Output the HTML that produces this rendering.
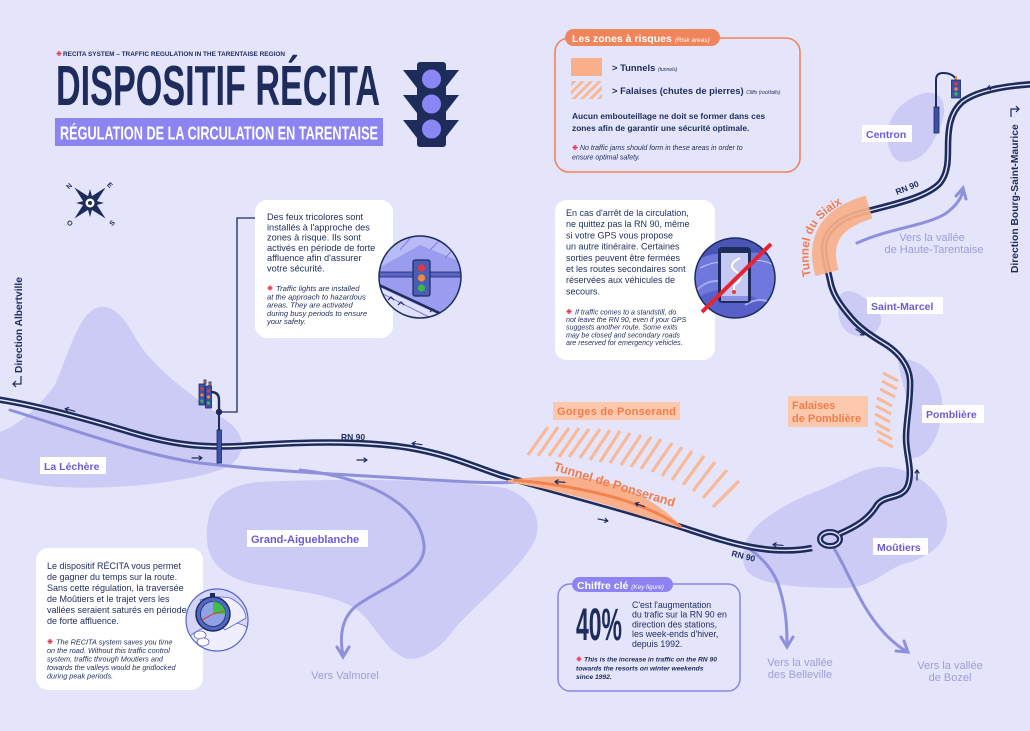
<!DOCTYPE html>
<html><head><meta charset="utf-8">
<style>
html,body{margin:0;padding:0;background:#e4e4fb;}
svg{display:block;}
text{font-family:"Liberation Sans",sans-serif;}
</style></head>
<body>
<svg width="1030" height="731" viewBox="0 0 1030 731" xmlns="http://www.w3.org/2000/svg">
<defs>
<pattern id="hatch" width="6" height="6" patternUnits="userSpaceOnUse" patternTransform="rotate(45)">
<rect width="3" height="6" fill="#f9b896"/>
</pattern>
<clipPath id="c1"><circle cx="420" cy="277" r="41"/></clipPath>
<clipPath id="c2"><circle cx="735" cy="278" r="40"/></clipPath>
<clipPath id="c3"><circle cx="217" cy="620" r="31"/></clipPath>
<path id="siaixPath" d="M811,276 C808,262 807,248 812,234 C819,216 838,204 862,195"/>
</defs>
<rect width="1030" height="731" fill="#e4e4fb"/>

<!-- blobs -->
<g fill="#cbcbf5">
<path d="M0,432 C20,425 40,405 55,385 C70,350 80,310 100,307 C120,305 130,330 140,345 C160,375 200,400 232,425 C248,440 243,460 225,468 C190,482 120,490 60,487 C30,485 10,480 0,478 Z"/>
<path d="M207,540 C205,505 220,485 260,482 C330,479 440,478 505,488 C535,498 542,522 535,540 C520,570 480,600 455,628 C440,650 420,662 405,658 C385,650 375,625 360,612 C340,595 300,592 260,585 C225,580 208,562 207,540 Z"/>
<path d="M890,150 C880,130 895,100 925,93 C945,90 948,110 940,127 C932,145 925,160 905,162 C895,162 892,156 890,150 Z"/>
<path d="M838,305 C838,290 848,288 860,295 C872,303 885,312 880,325 C875,338 855,340 845,330 C838,322 838,312 838,305 Z"/>
<path d="M898,360 C920,355 945,380 942,410 C940,440 925,460 910,458 C900,455 905,440 908,420 C910,400 900,380 898,360 Z"/>
<path d="M745,545 C750,525 780,505 820,490 C850,478 870,462 895,468 C925,475 948,500 947,525 C945,550 920,560 900,565 C880,575 870,588 840,588 C800,588 760,585 748,572 C742,565 742,555 745,545 Z"/>
</g>

<!-- hatches -->
<path stroke="#f9b896" stroke-width="3.2" fill="none" d="M528,455L548,427 M538,456L558,427 M549,456L569,428 M559,457L579,428 M569,457L589,429 M580,458L600,429 M590,460L610,430 M600,462L620,431 M610,463L630,433 M621,465L641,435 M631,467L651,437 M641,469L661,439 M652,472L672,443 M662,476L682,447 M672,480L692,451 M683,485L704,456 M693,491L715,462 M703,498L727,470 M713,507L739,481"/>
<path stroke="#f9b896" stroke-width="3" fill="none" d="M883,373L898,381 M882,381L897,389 M880,389L895,397 M877,398L892,406 M876,406L891,414 M875,414L890,422 M875,423L890,431 M877,431L892,439 M878,439L893,447"/>

<!-- secondary roads -->
<g fill="none" stroke="#8f90dc" stroke-width="3" stroke-linecap="round">
<path d="M10,410 C60,425 140,455 200,463 C260,470 330,474 400,478 C450,481 490,484 515,482"/>
<path d="M300,470 C370,478 420,505 424,545 C427,575 375,590 355,607 C340,620 340,640 343,655"/>
<path d="M337,647 L343,657 L349,647"/>
<path d="M748,548 C760,556 775,570 780,590 C786,610 787,625 787,645"/>
<path d="M781,637 L787,647 L793,637"/>
<path d="M832,545 C842,560 852,585 865,607 C877,627 892,643 906,651"/>
<path d="M896,651 L908,652 L904,641"/>
<path d="M857,243 C890,228 925,226 945,214 C955,207 961,199 963,191"/>
<path d="M956,196 L963,188 L966,199"/>
</g>

<!-- main road -->
<g fill="none" stroke-linecap="butt">
<path d="M-5,399 C30,404 80,417 130,432 C170,444 200,448 240,446 C300,442 360,440 410,448 C450,455 470,465 500,475 C560,493 630,510 690,530 C730,543 770,556 812,548" stroke="#1d2c5b" stroke-width="6.5"/>
<path d="M-5,399 C30,404 80,417 130,432 C170,444 200,448 240,446 C300,442 360,440 410,448 C450,455 470,465 500,475 C560,493 630,510 690,530 C730,543 770,556 812,548" stroke="#e4e4fb" stroke-width="1.4"/>
<ellipse cx="830" cy="539" rx="10" ry="7" stroke="#1d2c5b" stroke-width="6"/>
<ellipse cx="830" cy="539" rx="10" ry="7" stroke="#e4e4fb" stroke-width="1.4"/>
<path d="M839,534 C855,527 868,520 877,505 C885,494 903,500 908,485 C913,470 906,455 906,438 C906,420 911,400 910,380 C909,365 898,352 885,344 C870,335 858,327 848,314 C838,302 832,292 830,280 C827,266 821,250 826,238 C833,222 850,215 868,211 C900,203 928,196 940,183 C948,173 948,160 948,148 C948,128 950,113 962,102 C975,92 1000,86 1035,84" stroke="#1d2c5b" stroke-width="6.5"/>
<path d="M839,534 C855,527 868,520 877,505 C885,494 903,500 908,485 C913,470 906,455 906,438 C906,420 911,400 910,380 C909,365 898,352 885,344 C870,335 858,327 848,314 C838,302 832,292 830,280 C827,266 821,250 826,238 C833,222 850,215 868,211 C900,203 928,196 940,183 C948,173 948,160 948,148 C948,128 950,113 962,102 C975,92 1000,86 1035,84" stroke="#e4e4fb" stroke-width="1.4"/>
</g>

<!-- tunnels -->
<path d="M508,480 C545,475 580,474 613,484 C640,493 665,508 684,529 C660,522 630,512 600,503 C565,493 535,486 508,482 Z" fill="#f9b08a"/>
<path d="M513,480 C550,483 585,489 620,499 C645,507 665,516 681,527" fill="none" stroke="#f2824f" stroke-width="3"/>
<path d="M869,207 C849,213 833,222 827,238 C822,250 824,262 827,273" fill="none" stroke="#f9b08a" stroke-width="24" opacity="0.92"/>

<!-- direction arrows -->
<g fill="none" stroke="#1d2c5b" stroke-width="1.2" stroke-linecap="round">
<g transform="translate(70,410) rotate(15)"><path d="M-5,0H5M-5,0l3,-2M-5,0l3,2"/></g>
<g transform="translate(197,458)"><path d="M-5,0H5M5,0l-3,-2M5,0l-3,2"/></g>
<g transform="translate(362,460)"><path d="M-5,0H5M5,0l-3,-2M5,0l-3,2"/></g>
<g transform="translate(417,444) rotate(8)"><path d="M-5,0H5M-5,0l3,-2M-5,0l3,2"/></g>
<g transform="translate(560,482) rotate(4)"><path d="M-5,0H5M-5,0l3,-2M-5,0l3,2"/></g>
<g transform="translate(640,505) rotate(20)"><path d="M-5,0H5M-5,0l3,-2M-5,0l3,2"/></g>
<g transform="translate(603,520) rotate(12)"><path d="M-5,0H5M5,0l-3,-2M5,0l-3,2"/></g>
<g transform="translate(778,545) rotate(5)"><path d="M-5,0H5M-5,0l3,-2M-5,0l3,2"/></g>
<g transform="translate(860,332) rotate(35)"><path d="M-5,0H5M5,0l-3,-2M5,0l-3,2"/></g>
<g transform="translate(917,475) rotate(-90)"><path d="M-5,0H5M5,0l-3,-2M5,0l-3,2"/></g>
<g transform="translate(992,87) rotate(-15)"><path d="M-5,0H5M-5,0l3,-2M-5,0l3,2"/></g>
</g>

<!-- RN 90 labels -->
<g fill="#1d2c5b" font-size="8.5" font-weight="bold">
<text x="341" y="440">RN 90</text>
<text x="0" y="0" transform="translate(731,556) rotate(14)">RN 90</text>
<text x="0" y="0" transform="translate(897,195) rotate(-22)">RN 90</text>
</g>

<!-- orange labels -->
<rect x="553" y="402" width="127" height="18" fill="#fcc9ad"/>
<text x="557" y="415" font-size="11" font-weight="bold" fill="#f07d4d" textLength="119">Gorges de Ponserand</text>
<rect x="788" y="396" width="80" height="31" fill="#fcc9ad"/>
<text x="792" y="409" font-size="11" font-weight="bold" fill="#f07d4d">Falaises</text>
<text x="792" y="422" font-size="11" font-weight="bold" fill="#f07d4d">de Pomblière</text>
<text x="0" y="0" transform="translate(553,470) rotate(17)" font-size="12.5" font-weight="bold" fill="#f07d4d">Tunnel de Ponserand</text>
<text font-size="11.8" font-weight="bold" fill="#f07d4d"><textPath href="#siaixPath">Tunnel du Siaix</textPath></text>

<!-- place labels -->
<g font-size="10.5" font-weight="bold" fill="#6b5bd6">
<rect x="40" y="457" width="66" height="17" fill="#fff"/><text x="44" y="470">La Léchère</text>
<rect x="247" y="530" width="121" height="17" fill="#fff"/><text x="251" y="543" font-size="11">Grand-Aigueblanche</text>
<rect x="862" y="125" width="50" height="17" fill="#fff"/><text x="866" y="138">Centron</text>
<rect x="867" y="297" width="76" height="17" fill="#fff"/><text x="871" y="310">Saint-Marcel</text>
<rect x="922" y="405" width="62" height="18" fill="#fff"/><text x="926" y="418">Pomblière</text>
<rect x="873" y="538" width="55" height="17" fill="#fff"/><text x="877" y="551">Moûtiers</text>
</g>

<!-- vers labels -->
<g font-size="11" fill="#9d9fd6" text-anchor="middle">
<text x="345" y="679">Vers Valmorel</text>
<text x="800" y="666">Vers la vallée</text><text x="800" y="678">des Belleville</text>
<text x="950" y="669">Vers la vallée</text><text x="950" y="681">de Bozel</text>
<text x="932" y="241">Vers la vallée</text><text x="934" y="253">de Haute-Tarentaise</text>
</g>

<!-- direction labels -->
<text x="0" y="0" transform="translate(22,373) rotate(-90)" font-size="10.2" font-weight="bold" fill="#1d2c5b">Direction Albertville</text>
<path d="M21,376 V384 H13 M16,381 L13,384 L16,387" fill="none" stroke="#1d2c5b" stroke-width="1.2"/>
<text x="0" y="0" transform="translate(1018,273) rotate(-90)" font-size="10.3" font-weight="bold" fill="#1d2c5b">Direction Bourg-Saint-Maurice</text>
<path d="M1011,117 V109 H1019 M1016,106 L1019,109 L1016,112" fill="none" stroke="#1d2c5b" stroke-width="1.2"/>

<!-- left traffic light + connector -->
<path d="M255,218 H237 V412 H219" fill="none" stroke="#1d2c5b" stroke-width="1.3"/>
<path d="M219,412 V400 Q219,392 211,392" fill="none" stroke="#1d2c5b" stroke-width="2.4"/>
<line x1="219" y1="412" x2="219" y2="463" stroke="#1d2c5b" stroke-width="2"/>
<rect x="217" y="430" width="4.5" height="33" fill="#3d4fa8" stroke="#1d2c5b" stroke-width="0.8"/>
<circle cx="219" cy="412" r="3.2" fill="#1d2c5b"/>
<g stroke="#1d2c5b" stroke-width="0.8">
<rect x="204" y="380" width="2" height="4" fill="#f08a3c"/>
<rect x="209" y="382" width="2" height="4" fill="#f08a3c"/>
<rect x="199" y="384" width="6" height="21" fill="#3f50a8"/>
<rect x="205.5" y="386" width="6" height="22" fill="#3f50a8"/>
</g>
<g stroke="none">
<circle cx="202" cy="389" r="1.6" fill="#e23b3b"/><circle cx="202" cy="395" r="1.6" fill="#f08a3c"/><circle cx="202" cy="401" r="1.6" fill="#3bb84a"/>
<circle cx="208.5" cy="391" r="1.6" fill="#e23b3b"/><circle cx="208.5" cy="397" r="1.6" fill="#f08a3c"/><circle cx="208.5" cy="403" r="1.6" fill="#3bb84a"/>
</g>

<!-- top-right traffic light -->
<path d="M936,108 V80 Q936,73 943,73 Q952,73 956,79" fill="none" stroke="#1d2c5b" stroke-width="2"/>
<rect x="934" y="107" width="5" height="26" fill="#3d4fa8" stroke="#1d2c5b" stroke-width="0.8"/>
<rect x="955" y="76" width="2" height="4" fill="#f08a3c"/>
<rect x="951.5" y="80" width="9" height="18" fill="#3f50a8" stroke="#1d2c5b" stroke-width="0.8"/>
<circle cx="956" cy="84" r="1.7" fill="#e23b3b"/><circle cx="956" cy="89" r="1.7" fill="#f08a3c"/><circle cx="956" cy="94" r="1.7" fill="#3bb84a"/>

<!-- title -->
<circle cx="59" cy="53.5" r="2.4" fill="#f28aa0"/>
<path d="M56.6,53.5H61.4M59,51.1V55.9" stroke="#e0304a" stroke-width="0.9"/>
<text x="63" y="56" font-size="6" font-weight="bold" fill="#1d2c5b" textLength="222" lengthAdjust="spacingAndGlyphs">RECITA SYSTEM – TRAFFIC REGULATION IN THE TARENTAISE REGION</text>
<text x="56" y="105" font-size="57" font-weight="bold" fill="#1d2c5b" textLength="324" lengthAdjust="spacingAndGlyphs">DISPOSITIF RÉCITA</text>
<rect x="55" y="118" width="328" height="28" fill="#8c84f2"/>
<text x="60" y="139.5" font-size="18.5" font-weight="bold" fill="#fff" textLength="318" lengthAdjust="spacingAndGlyphs">RÉGULATION DE LA CIRCULATION EN TARENTAISE</text>

<!-- traffic light icon -->
<g fill="#1d2c5b">
<polygon points="403,70 417,70 417,88"/>
<polygon points="403,95 417,95 417,113"/>
<polygon points="403,120 417,120 417,138"/>
<polygon points="459,70 445,70 445,88"/>
<polygon points="459,95 445,95 445,113"/>
<polygon points="459,120 445,120 445,138"/>
<rect x="417" y="62" width="29" height="85" rx="3"/>
</g>
<g fill="#8b86f5" stroke="#1d2c5b" stroke-width="1">
<circle cx="431.5" cy="79" r="10"/>
<circle cx="431.5" cy="104" r="10"/>
<circle cx="431.5" cy="129" r="10"/>
</g>

<!-- compass -->
<g transform="translate(90,203)" fill="#1d2c5b">
<g transform="rotate(45)">
<polygon points="0,-22 4,-4 0,0 -4,-4"/>
<polygon points="22,0 4,4 0,0 4,-4"/>
<polygon points="0,22 -4,4 0,0 4,4"/>
<polygon points="-22,0 -4,-4 0,0 -4,4"/>
</g>
<polygon points="0,-14 3,-3 0,0 -3,-3"/>
<polygon points="14,0 3,3 0,0 3,-3"/>
<polygon points="0,14 -3,3 0,0 3,3"/>
<polygon points="-14,0 -3,-3 0,0 -3,3"/>
<circle r="4.5" fill="#fff"/><circle r="2" fill="#1d2c5b"/>
<g font-size="7" font-weight="bold" text-anchor="middle">
<text transform="translate(-21,-17) rotate(-45)" y="2.5">N</text>
<text transform="translate(20,-18) rotate(45)" y="2.5">E</text>
<text transform="translate(-20,20) rotate(45)" y="2.5">O</text>
<text transform="translate(22,20) rotate(-45)" y="2.5">S</text>
</g>
</g>

<!-- legend box -->
<rect x="555" y="38" width="245" height="134" rx="14" fill="none" stroke="#f0845a" stroke-width="1.6"/>
<rect x="565" y="29" width="155" height="17" rx="8.5" fill="#f0845a"/>
<text x="572" y="42" font-size="10.5" font-weight="bold" fill="#fff">Les zones à risques <tspan font-size="6.5" font-weight="normal" font-style="italic">(Risk areas)</tspan></text>
<rect x="571" y="58" width="31" height="18" fill="#f9b08a"/>
<rect x="571" y="81" width="31" height="18" fill="url(#hatch)"/>
<text x="612" y="71" font-size="9.4" font-weight="bold" fill="#1d2c5b">&gt; Tunnels <tspan font-size="5" font-weight="normal" font-style="italic">(tunnels)</tspan></text>
<text x="612" y="94" font-size="9.4" font-weight="bold" fill="#1d2c5b">&gt; Falaises (chutes de pierres) <tspan font-size="5" font-weight="normal" font-style="italic">Cliffs (rockfalls)</tspan></text>
<text x="572" y="119" font-size="8.4" font-weight="bold" fill="#1d2c5b">Aucun embouteillage ne doit se former dans ces</text>
<text x="572" y="131" font-size="8.4" font-weight="bold" fill="#1d2c5b">zones afin de garantir une sécurité optimale.</text>
<circle cx="575" cy="147.5" r="2.5" fill="#f28aa0"/><path d="M572.5,147.5H577.5M575,145V150" stroke="#e0304a" stroke-width="0.9"/>
<text x="580" y="150" font-size="7" font-style="italic" fill="#1d2c5b">No traffic jams should form in these areas in order to</text>
<text x="572" y="159.5" font-size="7" font-style="italic" fill="#1d2c5b">ensure optimal safety.</text>

<!-- callout 1 -->
<rect x="255" y="200" width="138" height="138" rx="12" fill="#fff"/>
<g font-size="9.2" fill="#1d2c5b">
<text x="267" y="220">Des feux tricolores sont</text>
<text x="267" y="230.3">installés à l'approche des</text>
<text x="267" y="240.6">zones à risque. Ils sont</text>
<text x="267" y="250.9">activés en période de forte</text>
<text x="267" y="261.2">affluence afin d'assurer</text>
<text x="267" y="271.5">votre sécurité.</text>
</g>
<circle cx="270" cy="288" r="2.5" fill="#f28aa0"/><path d="M267.5,288H272.5M270,285.5V290.5" stroke="#e0304a" stroke-width="0.9"/>
<g font-size="7.6" font-style="italic" fill="#1d2c5b">
<text x="276" y="291">Traffic lights are installed</text>
<text x="267" y="299.3">at the approach to hazardous</text>
<text x="267" y="307.6">areas. They are activated</text>
<text x="267" y="315.9">during busy periods to ensure</text>
<text x="267" y="324.2">your safety.</text>
</g>
<g clip-path="url(#c1)">
<rect x="379" y="236" width="82" height="82" fill="#9a9cf0"/>
<polygon points="379,236 461,236 461,262 420,245 379,268" fill="#b9bbf6"/>
<path d="M385,245 L395,232 M400,250 L412,236 M430,250 L442,238 M445,258 L458,244" stroke="#7d80e0" stroke-width="1"/>
<polygon points="379,287 461,325 461,318 379,318" fill="#dfe0fb"/>
<path d="M379,285 L461,323" stroke="#1d2c5b" stroke-width="2.5"/>
<path d="M379,292 L455,330" stroke="#6d72d8" stroke-width="1"/>
<rect x="378" y="272" width="84" height="5" fill="#5a63c8" stroke="#1d2c5b" stroke-width="0.8"/>
<rect x="413" y="260" width="17" height="36" rx="2" fill="#4b5bb8" stroke="#1d2c5b" stroke-width="1.2"/>
<circle cx="421.5" cy="268" r="3.6" fill="#e23b3b"/>
<circle cx="421.5" cy="278" r="3.6" fill="#f08a3c"/>
<circle cx="421.5" cy="288" r="3.6" fill="#3bb84a"/>
<path d="M388,300 l3,-3 l3,3 M398,305 l3,-3 l3,3 M430,312 l3,-3 l3,3" stroke="#1d2c5b" stroke-width="1.2" fill="none"/>
</g>
<circle cx="420" cy="277" r="41" fill="none" stroke="#1d2c5b" stroke-width="1.5"/>

<!-- callout 2 -->
<rect x="555" y="200" width="160" height="160" rx="12" fill="#fff"/>
<g font-size="9" fill="#1d2c5b">
<text x="566" y="216">En cas d'arrêt de la circulation,</text>
<text x="566" y="227.2">ne quittez pas la RN 90, même</text>
<text x="566" y="238.4">si votre GPS vous propose</text>
<text x="566" y="249.6">un autre itinéraire. Certaines</text>
<text x="566" y="260.8">sorties peuvent être fermées</text>
<text x="566" y="272">et les routes secondaires sont</text>
<text x="566" y="283.2">réservées aux véhicules de</text>
<text x="566" y="294.4">secours.</text>
</g>
<circle cx="569" cy="311.5" r="2.5" fill="#f28aa0"/><path d="M566.5,311.5H571.5M569,309V314" stroke="#e0304a" stroke-width="0.9"/>
<g font-size="7.1" font-style="italic" fill="#1d2c5b">
<text x="575" y="314.5">If traffic comes to a standstill, do</text>
<text x="566" y="322.1">not leave the RN 90, even if your GPS</text>
<text x="566" y="329.7">suggests another route. Some exits</text>
<text x="566" y="337.3">may be closed and secondary roads</text>
<text x="566" y="344.9">are reserved for emergency vehicles.</text>
</g>
<g clip-path="url(#c2)">
<rect x="695" y="238" width="80" height="80" fill="#6f78dd"/>
<path d="M695,262 Q715,248 735,258 Q755,246 775,260 L775,238 L695,238 Z" fill="#4a55b8"/>
<path d="M700,268 Q720,258 740,264 Q760,256 775,266" stroke="#c5c8f3" stroke-width="1" fill="none"/>
<path d="M695,300 Q720,280 760,300 Q770,306 775,300 L775,318 L695,318 Z" fill="#5660c8"/>
<path d="M697,290 Q715,272 740,290" stroke="#a7abef" stroke-width="2" fill="none"/>
<path d="M745,305 Q760,295 775,305" stroke="#a7abef" stroke-width="2" fill="none"/>
<rect x="718" y="247" width="33" height="56" rx="4" fill="#1d2c5b"/>
<rect x="721" y="253" width="27" height="43" fill="#c5c8f3"/>
<path d="M740,258 Q725,265 738,273 Q745,278 734,285 L734,292" stroke="#fff" stroke-width="2" fill="none"/>
<circle cx="734" cy="292" r="2" fill="#e23b3b"/>
<rect x="721" y="296" width="27" height="5" fill="#8b90e6"/>
</g>
<circle cx="735" cy="278" r="40" fill="none" stroke="#1d2c5b" stroke-width="1.5"/>
<line x1="702" y1="312" x2="771" y2="244" stroke="#e8232f" stroke-width="4"/>

<!-- bottom-left box -->
<rect x="36" y="548" width="167" height="142" rx="12" fill="#fff"/>
<g font-size="9" fill="#1d2c5b">
<text x="47" y="569">Le dispositif RÉCITA vous permet</text>
<text x="47" y="580">de gagner du temps sur la route.</text>
<text x="47" y="591">Sans cette régulation, la traversée</text>
<text x="47" y="602">de Moûtiers et le trajet vers les</text>
<text x="47" y="613">vallées seraient saturés en période</text>
<text x="47" y="624">de forte affluence.</text>
</g>
<circle cx="50" cy="641.5" r="2.5" fill="#f28aa0"/><path d="M47.5,641.5H52.5M50,639V644" stroke="#e0304a" stroke-width="0.9"/>
<g font-size="7.3" font-style="italic" fill="#1d2c5b">
<text x="56" y="644.5">The RECITA system saves you time</text>
<text x="47" y="653">on the road. Without this traffic control</text>
<text x="47" y="661.5">system, traffic through Moutiers and</text>
<text x="47" y="670">towards the valleys would be gridlocked</text>
<text x="47" y="678.5">during peak periods.</text>
</g>
<g clip-path="url(#c3)">
<rect x="186" y="589" width="62" height="62" fill="#d4d5f8"/>
<path d="M186,640 Q200,625 215,628 Q235,618 248,628 L248,651 L186,651 Z" fill="#eeeefd" stroke="#5a63c8" stroke-width="0.8"/>
<path d="M200,600 Q215,595 230,598 Q245,605 246,618 L225,630 Z" fill="#eeeefd" stroke="#5a63c8" stroke-width="0.8"/>
<ellipse cx="200" cy="635" rx="6" ry="4" fill="#fff" stroke="#5a63c8" stroke-width="0.8"/>
<ellipse cx="203" cy="642" rx="6" ry="4" fill="#fff" stroke="#5a63c8" stroke-width="0.8"/>
<rect x="210" y="593" width="5" height="4" fill="#1d2c5b"/>
<circle cx="213" cy="614" r="17" fill="#4f68c4" stroke="#1d2c5b" stroke-width="1.5"/>
<circle cx="213" cy="614" r="12.5" fill="#8fa2e6" stroke="#1d2c5b" stroke-width="0.8"/>
<path d="M213,614 L213,601.5 A12.5,12.5 0 0 1 225.5,614 Z" fill="#3fbf4a"/>
<line x1="213" y1="614" x2="202" y2="620" stroke="#e23b3b" stroke-width="1"/>
<line x1="213" y1="614" x2="224" y2="611" stroke="#e23b3b" stroke-width="1"/>
</g>
<circle cx="217" cy="620" r="31" fill="none" stroke="#5a63c8" stroke-width="1.2"/>

<!-- key figure -->
<rect x="558" y="584" width="182" height="107" rx="12" fill="none" stroke="#8a86e6" stroke-width="1.5"/>
<rect x="572" y="577" width="101" height="15" rx="7.5" fill="#8c84f2"/>
<text x="577" y="589" font-size="10.5" font-weight="bold" fill="#fff">Chiffre clé <tspan font-size="6.3" font-weight="normal" font-style="italic">(Key figure)</tspan></text>
<text x="576" y="640" font-size="45" font-weight="bold" fill="#1d2c5b" textLength="46" lengthAdjust="spacingAndGlyphs">40%</text>
<g font-size="8.8" fill="#1d2c5b">
<text x="632" y="608">C'est l'augmentation</text>
<text x="632" y="617.7">du trafic sur la RN 90 en</text>
<text x="632" y="627.4">direction des stations,</text>
<text x="632" y="637.1">les week-ends d'hiver,</text>
<text x="632" y="646.8">depuis 1992.</text>
</g>
<circle cx="579" cy="659" r="2.4" fill="#f28aa0"/><path d="M576.6,659H581.4M579,656.6V661.4" stroke="#e0304a" stroke-width="0.9"/>
<g font-size="6.7" font-style="italic" font-weight="bold" fill="#1d2c5b">
<text x="584" y="661.5">This is the increase in traffic on the RN 90</text>
<text x="576" y="670.3">towards the resorts on winter weekends</text>
<text x="576" y="679">since 1992.</text>
</g>
</svg>
</body></html>
